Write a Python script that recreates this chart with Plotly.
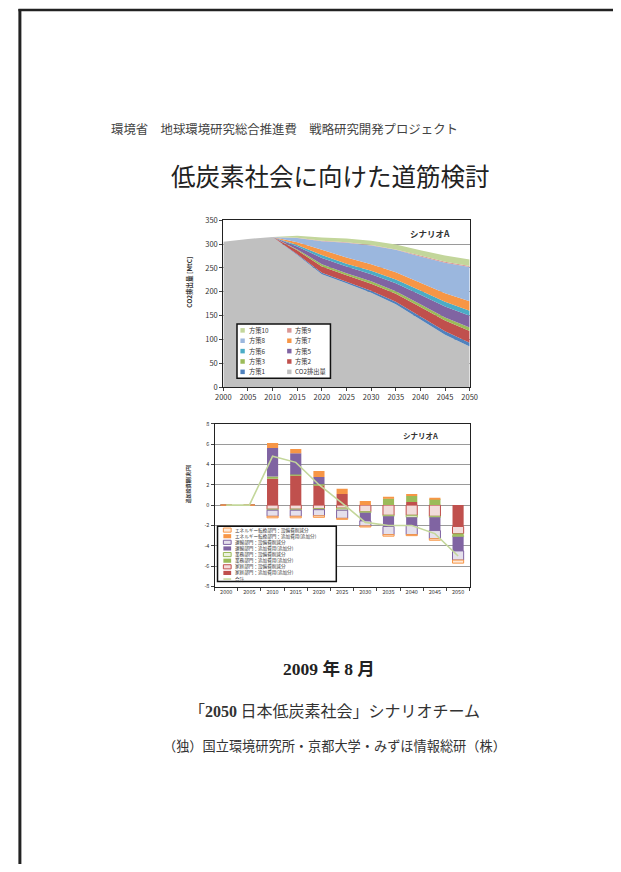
import plotly.graph_objects as go

# The page body keeps its default 8px margin, so the figure is 16px smaller
# than the window and page coordinates are shifted by 8px.
OFF = 8
FW, FH = 621 - 2 * OFF, 872 - 2 * OFF


def px(x):
    return (x - OFF) / FW


def py(y):
    return 1 - (y - OFF) / FH


JP = "Noto Sans CJK JP"

# ---------------- Chart 1 data (CO2 emissions, MtC) ----------------
years = [2000, 2005, 2010, 2015, 2020, 2025, 2030, 2035, 2040, 2045, 2050]
co2 = [305, 311, 315, 277, 237, 218, 198, 174, 142, 110, 85]
m1 = [0, 0, 0, 2, 3, 3, 4, 5, 6, 7, 8]
m2 = [0, 0, 0, 8, 13, 14, 15, 17, 20, 23, 25]
m3 = [0, 0, 0, 2, 5, 4, 5, 5, 6, 6, 7]
m5 = [0, 0, 0, 6, 13, 14, 15, 17, 20, 23, 25]
m6 = [0, 0, 0, 3, 6, 6, 7, 8, 9, 10, 10]
m7 = [0, 0, 0, 6, 11, 13, 14, 15, 16, 18, 20]
m8 = [0, 0, 0, 9, 18, 31, 39, 47, 55, 64, 72]
m9 = [0, 0, 0, 0.5, 1, 1, 1, 1, 2, 2, 2]
m10 = [0, 0, 0, 4, 7, 8, 9, 10, 11, 13, 14]

area_names = ["CO2排出量", "方策1", "方策2", "方策3", "方策5", "方策6",
              "方策7", "方策8", "方策9", "方策10"]
area_values = [co2, m1, m2, m3, m5, m6, m7, m8, m9, m10]
area_colors = ["#c0c0c0", "#4f81bd", "#c0504d", "#9bbb59", "#8064a2",
               "#4bacc6", "#f79646", "#9bb7de", "#d99694", "#c3d69b"]

# legend layout for chart 1 (two columns)
leg1_col1 = ["方策10", "方策8", "方策6", "方策3", "方策1"]
leg1_col2 = ["方策9", "方策7", "方策5", "方策2", "CO2排出量"]

# ---------------- Chart 2 data (additional investment, trillion yen) ----------------
cats = ["2000", "2005", "2010", "2015", "2020", "2025", "2030", "2035", "2040", "2045", "2050"]
home_add = [0, 0, 2.6, 2.9, 1.95, 1.1, 0, 0, 0.3, 0, -2.1]
home_save = [0, 0, -0.4, -0.4, -0.35, -0.3, -0.65, -1.0, -1.0, -1.1, -0.7]
biz_add = [0, 0, 0.2, 0.1, 0.1, 0, 0, 0.65, 0.6, 0.6, -0.2]
biz_save = [0, 0, -0.1, -0.1, -0.1, -0.2, -0.1, -0.1, -0.2, -0.1, -0.1]
trans_add = [0, 0, 2.8, 2.1, 0.7, 0, -0.8, -1.0, -0.8, -1.3, -1.4]
trans_save = [0, 0, -0.6, -0.6, -0.6, -0.8, -0.5, -0.8, -0.9, -0.8, -0.9]
ene_add = [0, 0, 0.5, 0.4, 0.6, 0.5, 0.4, 0.15, 0.2, 0.05, 0]
ene_save = [0, 0, -0.15, -0.15, -0.15, -0.1, -0.1, -0.15, -0.1, -0.15, -0.3]
total = [0, 0, 4.8, 4.2, 2.0, 0.2, -1.7, -2.0, -2.0, -2.8, -5.0]

bar_names = ["家庭部門：追加費用(追加分)", "家庭部門：設備費削減分",
             "業務部門：追加費用(追加分)", "業務部門：設備費削減分",
             "運輸部門：追加費用(追加分)", "運輸部門：設備費削減分",
             "エネルギー転換部門：追加費用(追加分)", "エネルギー転換部門：設備費削減分"]
bar_values = [home_add, home_save, biz_add, biz_save, trans_add, trans_save, ene_add, ene_save]
bar_fill = ["#c0504d", "#f2dcdb", "#9bbb59", "#ebf1de", "#8064a2", "#e5e0ec", "#f79646", "#fde9d9"]
bar_line = ["#c0504d", "#c0504d", "#9bbb59", "#9bbb59", "#8064a2", "#8064a2", "#f79646", "#f79646"]
bar_lw = [0, 1, 0, 1, 0, 1, 0, 1]
total_name = "合計"
total_color = "#c4d79b"

# legend order for chart 2 (top to bottom)
leg2_order = [7, 6, 5, 4, 3, 2, 1, 0]

y2_ticks = [8, 6, 4, 2, 0, -2, -4, -6, -8]
y2_ticktext = ["8", "6", "4", "2", "0", "-2", "-4", "-6", "-8"]

fig = go.Figure()

# chart 1 stacked areas
for name, vals, col in zip(area_names, area_values, area_colors):
    fig.add_trace(go.Scatter(
        x=years, y=vals, name=name, stackgroup="one", mode="none",
        fillcolor=col, line=dict(width=0), showlegend=False,
        xaxis="x", yaxis="y"))

# chart 2 bars
for name, vals, fc, lc, lw in zip(bar_names, bar_values, bar_fill, bar_line, bar_lw):
    fig.add_trace(go.Bar(
        x=cats, y=vals, name=name, marker=dict(color=fc, line=dict(color=lc, width=lw)),
        showlegend=False, xaxis="x2", yaxis="y2"))

fig.add_trace(go.Scatter(
    x=cats, y=total, name=total_name, mode="lines",
    line=dict(color=total_color, width=1.6), showlegend=False,
    xaxis="x2", yaxis="y2"))

axis_common = dict(showline=True, linecolor="#222", linewidth=1.2, mirror=True,
                   ticks="outside", ticklen=3, tickcolor="#444")

fig.update_layout(
    width=FW, height=FH,
    margin=dict(l=0, r=0, t=0, b=0),
    paper_bgcolor="white", plot_bgcolor="white",
    font=dict(family=JP, color="#333"),
    barmode="relative", bargap=0.52,
    xaxis=dict(domain=[px(221), px(474)], range=[2000, 2050], tickvals=years,
               tickfont=dict(size=7.5, color="#333"), showgrid=False,
               anchor="y", **axis_common),
    yaxis=dict(domain=[py(386), py(217)], range=[0, 350], dtick=50,
               tickfont=dict(size=7.5, color="#333"), showgrid=True,
               gridcolor="#9a9a9a", gridwidth=0.8, zeroline=False,
               anchor="x", **axis_common),
    xaxis2=dict(domain=[px(212), px(474)], type="category", range=[-0.5, 10.5],
                tickson="boundaries", tickfont=dict(size=5.5, color="#333"),
                showgrid=False, anchor="y2", **axis_common),
    yaxis2=dict(domain=[py(588), py(423)], range=[-8, 8], tickvals=y2_ticks,
                ticktext=y2_ticktext, tickfont=dict(size=5.5, color="#333"),
                showgrid=True, gridcolor="#9a9a9a", gridwidth=0.8, zeroline=False,
                anchor="x2", **axis_common),
)

shapes = []
annotations = []

# page border (left and top)
BX, BY = 12, 4
shapes.append(dict(type="line", xref="paper", yref="paper", x0=px(BX), x1=px(BX),
                   y0=py(BY - 1), y1=py(880), line=dict(color="#222", width=3)))
shapes.append(dict(type="line", xref="paper", yref="paper", x0=px(BX - 1.5), x1=px(640),
                   y0=py(BY), y1=py(BY), line=dict(color="#222", width=2.5)))


def text(x, y, s, size, color="#333", family=JP, anchor="center", angle=0):
    annotations.append(dict(x=px(x), y=py(y), xref="paper", yref="paper", text=s,
                            showarrow=False, xanchor=anchor, yanchor="middle",
                            textangle=angle,
                            font=dict(size=size, color=color, family=family)))


# page texts
text(284, 125, "環境省　地球環境研究総合推進費　戦略研究開発プロジェクト", 12.4, "#444", anchor="center")
text(331, 172, "低炭素社会に向けた道筋検討", 24.5, "#222")
text(330, 672, "<b>2009 年 8 月</b>", 17.5, "#222", family="Liberation Serif, " + JP)
text(335, 713, "「<b><span style='font-family:Liberation Serif'>2050</span></b> 日本低炭素社会」シナリオチーム",
     16, "#333")
text(335, 749, "（独）国立環境研究所・京都大学・みずほ情報総研（株）", 13.2, "#333")

# chart titles and axis titles
text(433, 230, "<b>シナリオA</b>", 8.5, "#333")
text(424, 435, "<b>シナリオA</b>", 7.5, "#333")
text(185, 280, "<b>CO2排出量 [MtC]</b>", 6.5, "#333", angle=-90)
text(185, 484, "<b>追加投資額[兆円]</b>", 5, "#333", angle=-90)

# ---- manual legend chart 1 ----
shapes.append(dict(type="rect", xref="paper", yref="paper", x0=px(235), x1=px(331),
                   y0=py(377), y1=py(322), fillcolor="white",
                   line=dict(color="#111", width=1.5), layer="above"))
rows1 = [328.5, 339, 349.5, 360, 370.5]
for col_names, sx in ((leg1_col1, 238.5), (leg1_col2, 286.5)):
    for name, ry in zip(col_names, rows1):
        c = area_colors[area_names.index(name)]
        shapes.append(dict(type="rect", xref="paper", yref="paper",
                           x0=px(sx), x1=px(sx + 4.5), y0=py(ry + 2.3), y1=py(ry - 2.3),
                           fillcolor=c, line=dict(width=0), layer="above"))
        text(sx + 6.5, ry, name, 6.3, "#333", anchor="left")

# ---- manual legend chart 2 ----
shapes.append(dict(type="rect", xref="paper", yref="paper", x0=px(215), x1=px(337),
                   y0=py(583), y1=py(527), fillcolor="white",
                   line=dict(color="#111", width=1.5), layer="above"))
row_y = 530.8
for i in leg2_order:
    shapes.append(dict(type="rect", xref="paper", yref="paper",
                       x0=px(221), x1=px(229), y0=py(row_y + 2.1), y1=py(row_y - 2.1),
                       fillcolor=bar_fill[i],
                       line=dict(color=bar_line[i], width=1 if bar_lw[i] else 0),
                       layer="above"))
    text(231, row_y, bar_names[i], 4.6, "#333", anchor="left")
    row_y += 6.2
shapes.append(dict(type="line", xref="paper", yref="paper", x0=px(221), x1=px(229),
                   y0=py(row_y), y1=py(row_y), line=dict(color=total_color, width=1.5),
                   layer="above"))
text(231, row_y, total_name, 4.6, "#333", anchor="left")

fig.update_layout(shapes=shapes, annotations=annotations)

fig.write_html("out.html", config={"displayModeBar": False})
